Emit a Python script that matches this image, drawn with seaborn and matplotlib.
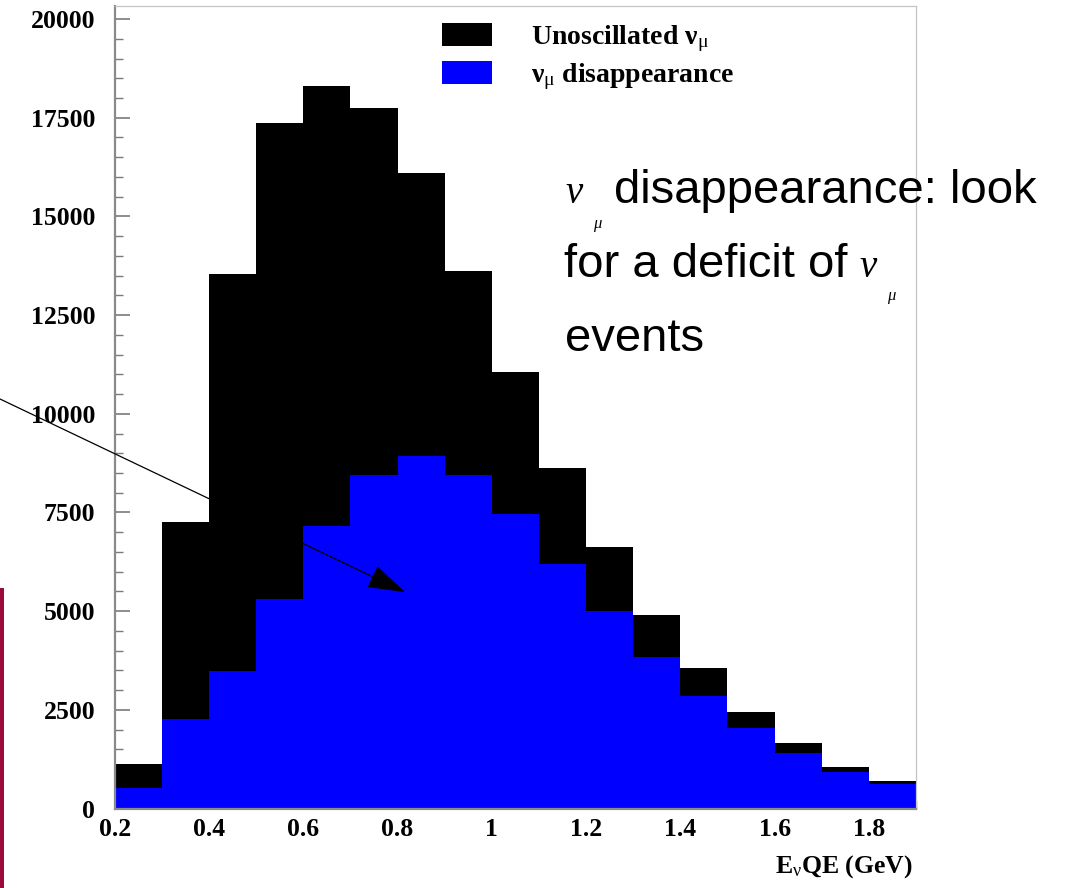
import matplotlib
matplotlib.use("Agg")
import matplotlib.pyplot as plt
import seaborn as sns
from matplotlib.patches import Patch, Rectangle
from matplotlib.ticker import MultipleLocator

# ---------------- data ----------------
energy_edges = [0.2, 0.3, 0.4, 0.5, 0.6, 0.7, 0.8, 0.9, 1.0, 1.1,
                1.2, 1.3, 1.4, 1.5, 1.6, 1.7, 1.8, 1.9]
unoscillated = [1130, 7270, 13530, 17360, 18310, 17740, 16090, 13610, 11070,
                8630, 6620, 4900, 3550, 2450, 1650, 1060, 700]
disappearance = [520, 2270, 3490, 5300, 7150, 8460, 8940, 8460, 7470,
                 6200, 5000, 3830, 2850, 2040, 1410, 920, 630]
x_ticks = [0.2, 0.4, 0.6, 0.8, 1.0, 1.2, 1.4, 1.6, 1.8]
x_tick_labels = ["0.2", "0.4", "0.6", "0.8", "1", "1.2", "1.4", "1.6", "1.8"]
y_ticks = [0, 2500, 5000, 7500, 10000, 12500, 15000, 17500, 20000]
y_tick_labels = [str(v) for v in y_ticks]
legend_labels = [r"Unoscillated ν$_{\mathrm{\mu}}$", r"ν$_{\mathrm{\mu}}$ disappearance"]
x_label = r"E$_{\mathrm{\nu}}$QE (GeV)"
note_lines = ["disappearance: look", "for a deficit of", "events"]

# ---------------- style ----------------
sns.set_theme(style="white")
plt.rcParams["font.family"] = ["Liberation Serif", "DejaVu Serif"]
plt.rcParams["mathtext.fontset"] = "custom"
plt.rcParams["mathtext.rm"] = "Liberation Serif"
plt.rcParams["mathtext.it"] = "Liberation Serif:italic"
plt.rcParams["mathtext.bf"] = "Liberation Serif:bold"
plt.rcParams["text.color"] = "black"
plt.rcParams["axes.labelcolor"] = "black"
plt.rcParams["xtick.labelcolor"] = "black"
plt.rcParams["ytick.labelcolor"] = "black"

W, H = 1066, 888
fig = plt.figure(figsize=(W / 100, H / 100), dpi=100)
ax = fig.add_axes([0.1076, 0.0895, 0.7517, 0.9037])

centers = [(a + b) / 2 for a, b in zip(energy_edges[:-1], energy_edges[1:])]
sns.histplot(x=centers, weights=unoscillated, bins=energy_edges, element="step",
             fill=True, color="black", alpha=1, linewidth=0, ax=ax)
sns.histplot(x=centers, weights=disappearance, bins=energy_edges, element="step",
             fill=True, color="#0000ff", alpha=1, linewidth=0, ax=ax)

ax.set_xlim(0.2, 1.9)
ax.set_ylim(0, 20330)
ax.set_ylabel("")
ax.set_xticks(x_ticks, x_tick_labels, fontweight="bold", fontsize=18.5)
ax.set_yticks(y_ticks, y_tick_labels, fontweight="bold", fontsize=18.5)
ax.xaxis.set_minor_locator(MultipleLocator(0.05))
ax.yaxis.set_minor_locator(MultipleLocator(500))
tick_col = "#7a7a7a"
ax.tick_params(axis="both", which="both", direction="in", color=tick_col,
               bottom=True, left=True, top=False, right=False, labelcolor="black")
ax.tick_params(axis="both", which="major", length=11, width=1.2)
ax.tick_params(axis="both", which="minor", length=6, width=1.0)
ax.tick_params(axis="y", which="major", pad=14)
ax.tick_params(axis="x", which="major", pad=7)

for side in ["left", "bottom"]:
    ax.spines[side].set_color("#8a8a8a")
    ax.spines[side].set_linewidth(1.6)
for side in ["top", "right"]:
    ax.spines[side].set_color("#c4c4c4")
    ax.spines[side].set_linewidth(0.9)

ax.set_xlabel(x_label, fontweight="bold", fontsize=18.5, loc="right", color="black")
ax.xaxis.set_label_coords(0.9963, -0.056)

# legend
handles = [Patch(facecolor="black", edgecolor="none"),
           Patch(facecolor="#0000ff", edgecolor="none")]
leg = ax.legend(handles, legend_labels, loc="upper left",
                bbox_to_anchor=(442 / W, 1 - 23 / H), bbox_transform=fig.transFigure,
                frameon=False, borderpad=0, borderaxespad=0,
                prop={"family": "Liberation Serif", "weight": "bold", "size": 20},
                handlelength=1.8, handleheight=0.9, handletextpad=1.4,
                labelspacing=0.25)
for t in leg.get_texts():
    t.set_color("black")

# arrow
ax.annotate("", xy=(0.816, 5480), xycoords="data",
            xytext=(0, 1 - 399 / H), textcoords="figure fraction",
            arrowprops=dict(arrowstyle="-|>,head_length=1.2,head_width=0.38",
                            mutation_scale=20, color="black", lw=0.9,
                            shrinkA=0, shrinkB=0),
            annotation_clip=False, zorder=6)

# slide decoration (left bar)
fig.add_artist(Rectangle((0, 0), 4 / W, 300 / H, transform=fig.transFigure,
                         color="#9c0a3c", lw=0))

# annotation text
def P(x, y):
    return (x / W, 1 - y / H)

sans = {"family": "Liberation Sans", "size": 34, "color": "black"}
nu_kw = {"family": "Liberation Serif", "style": "italic", "size": 28, "color": "black"}
mu_kw = {"family": "Liberation Serif", "style": "italic", "size": 12, "color": "black"}

fig.text(*P(565, 203), "ν", va="baseline", ha="left", **nu_kw)
fig.text(*P(593, 228), "μ", va="baseline", ha="left", **mu_kw)
fig.text(*P(614, 203), note_lines[0], va="baseline", ha="left", **sans)
t2 = fig.text(*P(564, 277), note_lines[1], va="baseline", ha="left", **sans)
fig.text(*P(565, 351), note_lines[2], va="baseline", ha="left", **sans)
fig.canvas.draw()
bb = t2.get_window_extent()
nx = bb.x1 + 12
fig.text(nx / W, 1 - 277 / H, "ν", va="baseline", ha="left", **nu_kw)
fig.text((nx + 28) / W, 1 - 300 / H, "μ", va="baseline", ha="left", **mu_kw)

fig.savefig("out.png", dpi=100)
